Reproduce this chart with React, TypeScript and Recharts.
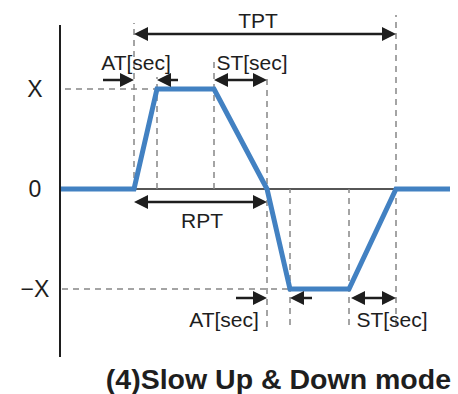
import { LineChart, Line, XAxis, YAxis, ReferenceLine, ReferenceDot } from "recharts";

// waveform vertices (time units, level in multiples of X)
const TIMES = [0, 7.4, 9.7, 15.4, 20.7, 23.0, 28.9, 33.6, 39];
const LEVELS = [0, 0, 1, 1, 0, -1, -1, 0, 0];

const Y_TICKS = [-1, 0, 1];
const Y_TICK_LABELS = ["−X", "0", "X"];

// dashed guides
const V_GUIDE_T = [7.4, 9.7, 15.4, 20.7, 23.0, 28.9, 33.6];
const V_GUIDE_TOP = [1.66, 1.12, 1.27, 1.11, 0, 0, 1.74];
const V_GUIDE_BOTTOM = [0, 0, 0, -1.38, -1.36, -1.36, -1.36];
const H_GUIDE_Y = [1, -1];
const H_GUIDE_FROM = [0.5, 0.2];
const H_GUIDE_TO = [9.7, 23.0];

// dimension arrows
const ARROW_FROM = [7.4, 4.3, 11.8, 15.4, 7.4, 17.6, 25.2, 29.1];
const ARROW_TO = [33.6, 7.4, 9.7, 20.7, 20.7, 20.7, 23.0, 33.6];
const ARROW_Y = [1.55, 1.09, 1.09, 1.09, -0.13, -1.09, -1.09, -1.09];
const ARROW_BOTH = [true, false, false, true, true, false, false, true];

// annotation texts
const LABEL_TEXT = ["TPT", "AT[sec]", "ST[sec]", "RPT", "AT[sec]", "ST[sec]"];
const LABEL_T = [19.8, 7.6, 19.2, 14.2, 16.4, 33.2];
const LABEL_Y = [1.69, 1.27, 1.27, -0.31, -1.3, -1.3];

const TITLE = "(4)Slow Up & Down mode";

const data = TIMES.map((t, i) => ({ t, v: LEVELS[i] }));

const FONT = "'Liberation Sans', Arial, sans-serif";
const INK = "#1e1e1e";
const BLUE = "#4281c2";
const GUIDE = "#878787";

const head = (x: number, y: number, dir: number) => {
  const len = 14;
  const half = 7;
  return (
    <polygon
      points={`${x},${y} ${x - dir * len},${y - half} ${x - dir * len},${y + half}`}
      fill={INK}
    />
  );
};

const arrowShape = (both: boolean) => (p: any) => {
  const { x1, y1, x2, y2 } = p;
  const dir = x2 > x1 ? 1 : -1;
  const sx = both ? x1 + dir * 12 : x1;
  const ex = x2 - dir * 12;
  return (
    <g>
      <line x1={sx} y1={y1} x2={ex} y2={y2} stroke={INK} strokeWidth={2.5} />
      {head(x2, y2, dir)}
      {both ? head(x1, y1, -dir) : null}
    </g>
  );
};

const textShape = (text: string) => (p: any) => (
  <text
    x={p.cx}
    y={p.cy}
    textAnchor="middle"
    dominantBaseline="central"
    fontFamily={FONT}
    fontSize={21}
    fill={INK}
  >
    {text}
  </text>
);

const YTick = (props: any) => {
  const { x, y, payload } = props;
  const idx = Y_TICKS.indexOf(payload.value);
  return (
    <text
      x={x - 17}
      y={y}
      textAnchor="middle"
      dominantBaseline="central"
      fontFamily={FONT}
      fontSize={23}
      fill={INK}
    >
      {Y_TICK_LABELS[idx]}
    </text>
  );
};

export default function App() {
  return (
    <div style={{ position: "absolute", left: 0, top: 0, width: 458, height: 394, background: "#fff" }}>
      <LineChart width={458} height={394} data={data} margin={{ top: 25, right: 8, bottom: 37, left: 0 }}>
        <XAxis dataKey="t" type="number" domain={[0, 39]} hide />
        <YAxis
          type="number"
          domain={[-1.68, 1.64]}
          ticks={Y_TICKS}
          width={60}
          tickLine={false}
          axisLine={{ stroke: INK, strokeWidth: 2 }}
          tick={<YTick />}
        />
        <ReferenceLine y={0} stroke={INK} strokeWidth={1.5} />
        {V_GUIDE_T.map((t, i) => (
          <ReferenceLine
            key={`v${i}`}
            segment={[
              { x: t, y: V_GUIDE_BOTTOM[i] },
              { x: t, y: V_GUIDE_TOP[i] },
            ]}
            ifOverflow="visible"
            stroke={GUIDE}
            strokeWidth={1.5}
            strokeDasharray="6 5"
          />
        ))}
        {H_GUIDE_Y.map((y, i) => (
          <ReferenceLine
            key={`h${i}`}
            segment={[
              { x: H_GUIDE_FROM[i], y },
              { x: H_GUIDE_TO[i], y },
            ]}
            ifOverflow="visible"
            stroke={GUIDE}
            strokeWidth={1.5}
            strokeDasharray="6 5"
          />
        ))}
        <Line
          dataKey="v"
          type="linear"
          stroke={BLUE}
          strokeWidth={5}
          dot={false}
          activeDot={false}
          isAnimationActive={false}
        />
        {ARROW_FROM.map((f, i) => (
          <ReferenceLine
            key={`a${i}`}
            segment={[
              { x: f, y: ARROW_Y[i] },
              { x: ARROW_TO[i], y: ARROW_Y[i] },
            ]}
            ifOverflow="visible"
            shape={arrowShape(ARROW_BOTH[i])}
          />
        ))}
        {LABEL_TEXT.map((text, i) => (
          <ReferenceDot
            key={`l${i}`}
            x={LABEL_T[i]}
            y={LABEL_Y[i]}
            r={1}
            ifOverflow="visible"
            shape={textShape(text)}
          />
        ))}
        <text
          x={451}
          y={389}
          textAnchor="end"
          fontFamily={FONT}
          fontSize={28.5}
          fontWeight="bold"
          fill={INK}
        >
          {TITLE}
        </text>
      </LineChart>
    </div>
  );
}
